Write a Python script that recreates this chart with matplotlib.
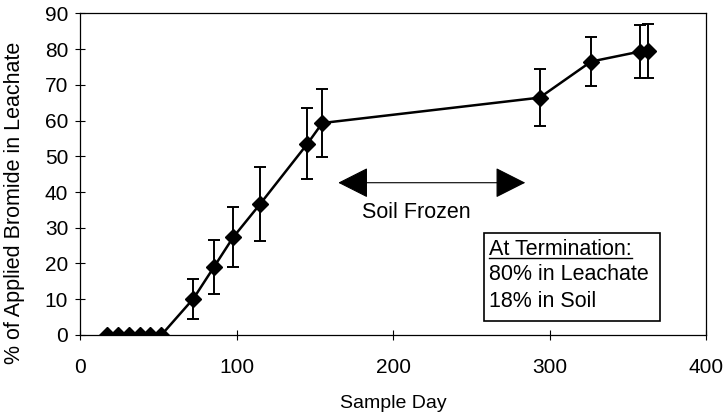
import matplotlib
matplotlib.use("Agg")
import matplotlib.pyplot as plt
from matplotlib.patches import Rectangle

plt.rcParams['font.family'] = ['Liberation Sans', 'DejaVu Sans']

# sample day, % of applied bromide, error (+/-)
days = [17, 24, 31, 38, 45, 52, 72.5, 85.7, 97.8, 115, 145.3, 154.8, 293.7, 326.6, 357.9, 363.2]
bromide = [0, 0, 0, 0, 0, 0, 10.2, 19.1, 27.3, 36.6, 53.5, 59.3, 66.4, 76.5, 79.3, 79.4]
err = [0, 0, 0, 0, 0, 0, 5.6, 7.6, 8.4, 10.3, 10.0, 9.4, 8.0, 6.8, 7.3, 7.5]

xticks = [0, 100, 200, 300, 400]
yticks = list(range(0, 100, 10))

fig = plt.figure(figsize=(7.23, 4.15), dpi=100)
ax = fig.add_axes([0.1107, 0.1928, 0.8658, 0.7752])

ax.errorbar(days, bromide, yerr=err, color='black', lw=1.8, marker='D', ms=8,
            elinewidth=1.4, capsize=4.5, capthick=1.4)

ax.set_xlim(0, 400)
ax.set_ylim(0, 90)
ax.set_xticks(xticks)
ax.set_yticks(yticks)
ax.tick_params(direction='inout', length=7, width=0.8, labelsize=15, pad=5)
ax.tick_params(axis='x', pad=13)
for s in ax.spines.values():
    s.set_linewidth(0.9)

ax.set_xlabel('Sample Day', fontsize=14)
ax.xaxis.set_label_coords(0.5, -0.185)
ax.set_ylabel('% of Applied Bromide in Leachate', fontsize=15.5)
ax.yaxis.set_label_coords(-0.088, 0.41)

# soil frozen arrow
ax.annotate('', xy=(165, 42.6), xytext=(284.5, 42.6),
            arrowprops=dict(arrowstyle='<|-|>,head_length=0.97,head_width=0.49',
                            mutation_scale=20, color='black', lw=0.8,
                            shrinkA=0, shrinkB=0))
ax.text(215, 34.3, 'Soil Frozen', fontsize=15.5, ha='center', va='center')

# termination box
ax.add_patch(Rectangle((258.4, 4.0), 112.3, 24.4, fill=False, lw=1.2, ec='black'))
t1 = ax.text(261.6, 24.0, 'At Termination:', fontsize=15.5, va='center')
ax.text(261.6, 16.8, '80% in Leachate', fontsize=15.5, va='center')
ax.text(261.6, 9.3, '18% in Soil', fontsize=15.5, va='center')

fig.canvas.draw()
bb = t1.get_window_extent().transformed(ax.transData.inverted())
ax.plot([bb.x0, bb.x1], [21.6, 21.6], color='black', lw=1)

fig.savefig('out.png', dpi=100)
